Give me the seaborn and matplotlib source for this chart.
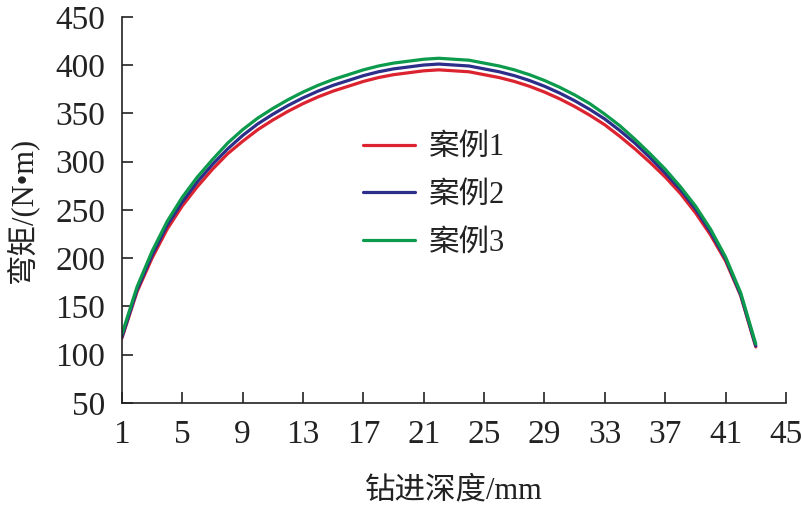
import matplotlib
matplotlib.use("Agg")
import matplotlib.pyplot as plt
import seaborn as sns
import pandas as pd
import numpy as np

depth = list(range(1, 44))
case1 = [117, 165, 200, 230, 254, 274, 292, 308, 321, 333, 343, 352, 360, 367, 373, 378,
         383, 387, 390, 392, 394, 395, 394, 393, 390, 387, 383, 378, 372, 365, 357, 348,
         338, 326, 313, 299, 284, 267, 247, 224, 197, 161, 108]
case2 = [118, 167, 203, 234, 258, 279, 297, 313, 327, 339, 349, 358, 366, 373, 379, 384,
         389, 393, 396, 398, 400, 401, 400, 399, 396, 393, 389, 384, 378, 371, 363, 354,
         344, 332, 319, 304, 288, 271, 251, 227, 199, 162, 109]
case3 = [121, 170, 207, 238, 263, 284, 302, 319, 333, 345, 355, 364, 372, 379, 385, 390,
         395, 399, 402, 404, 406, 407, 406, 405, 402, 399, 395, 390, 384, 377, 369, 360,
         349, 337, 323, 308, 292, 274, 254, 230, 201, 164, 111]
series_names = ["案例1", "案例2", "案例3"]
xticks = list(range(1, 46, 4))
yticks = list(range(50, 451, 50))

df = pd.concat([
    pd.DataFrame({"depth": depth, "moment": v, "case": n})
    for n, v in zip(series_names, [case1, case2, case3])
])

sns.set_theme(style="ticks")
fam = ["Liberation Serif", "Noto Sans CJK SC", "DejaVu Sans"]
plt.rcParams["font.family"] = fam

fig = plt.figure(figsize=(8.02, 5.08), dpi=100)
ax = fig.add_axes([0.152, 0.207, 0.828, 0.760])
palette = {"案例1": "#dc2330", "案例2": "#2c2e8a", "案例3": "#0c9a4c"}
sns.lineplot(data=df, x="depth", y="moment", hue="case", palette=palette,
             linewidth=2.3, ax=ax)

ax.set_xlim(1, 45)
ax.set_ylim(50, 450)
ax.set_xticks(xticks)
ax.set_yticks(yticks)
ax.tick_params(axis="both", direction="in", length=8, width=1.2, colors="#222222",
               labelsize=24, labelcolor="#222222")
ax.tick_params(axis="x", pad=12)
ax.tick_params(axis="y", pad=12)
for s in ["top", "right"]:
    ax.spines[s].set_visible(False)
for s in ["left", "bottom"]:
    ax.spines[s].set_linewidth(1.2)
    ax.spines[s].set_color("#222222")

ax.set_xlabel("钻进深度/mm", fontsize=22, color="#222222", labelpad=19)
ax.set_ylabel("弯矩/(N•m)", fontsize=22, color="#222222", labelpad=12)

leg = ax.legend(loc="upper left", bbox_to_anchor=(0.345, 0.73), frameon=False,
                fontsize=22, handlelength=1.7, handletextpad=0.45, labelspacing=0.62,
                borderaxespad=0)
for t in leg.get_texts():
    t.set_color("#222222")

fig.savefig("out.png", dpi=100)
